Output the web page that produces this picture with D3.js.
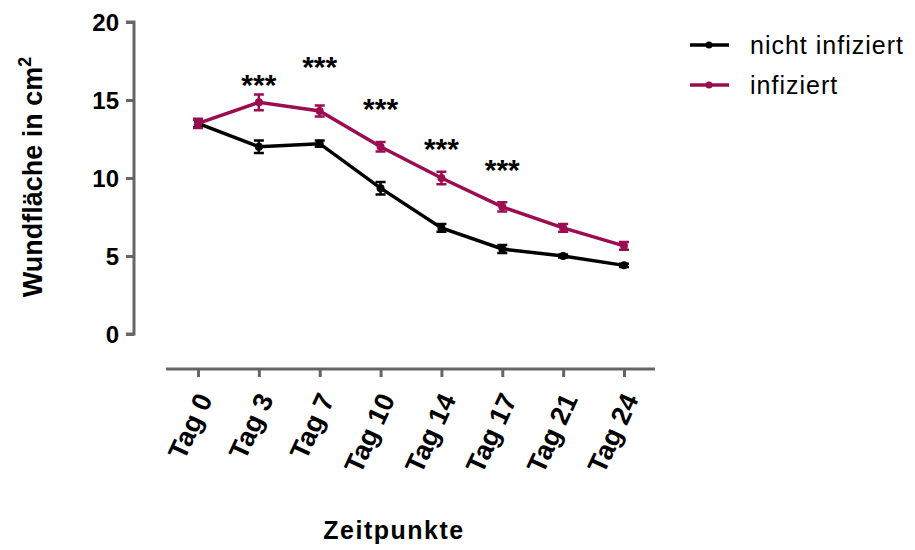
<!DOCTYPE html>
<html>
<head>
<meta charset="utf-8">
<script src="https://cdn.jsdelivr.net/npm/d3@7"></script>
<style>
  body { margin: 0; background: #fff; }
  svg { display: block; font-family: "Liberation Sans", Arial, sans-serif; }
</style>
</head>
<body>
<svg id="chart" width="915" height="550"></svg>
<script>
// data
var days = ["Tag 0", "Tag 3", "Tag 7", "Tag 10", "Tag 14", "Tag 17", "Tag 21", "Tag 24"];
var nichtMean = [13.5, 12.0, 12.2, 9.35, 6.8, 5.45, 5.0, 4.4];
var nichtErr  = [0.25, 0.4, 0.2, 0.4, 0.25, 0.25, 0.1, 0.1];
var infMean   = [13.5, 14.85, 14.3, 12.0, 10.0, 8.15, 6.8, 5.65];
var infErr    = [0.3, 0.5, 0.35, 0.3, 0.4, 0.3, 0.25, 0.25];
var starDays  = ["Tag 3", "Tag 7", "Tag 10", "Tag 14", "Tag 17"];
var starLevel = [16.4, 17.6, 14.9, 12.3, 11.0];
var yTicks = [0, 5, 10, 15, 20];

var series = [
  { name: "nicht infiziert", mean: nichtMean, err: nichtErr, color: "#000000" },
  { name: "infiziert", mean: infMean, err: infErr, color: "#9c0c50" }
];

var svg = d3.select("#chart");
var axisColor = "#666666";

var x = d3.scalePoint().domain(days).range([198, 624]);
var y = d3.scaleLinear().domain([0, 20]).range([334, 22]);

// y axis
var yAxis = svg.append("g").attr("transform", "translate(134,0)")
  .call(d3.axisLeft(y).tickValues(yTicks).tickSize(8).tickPadding(7));
yAxis.select(".domain").attr("stroke", axisColor).attr("stroke-width", 3)
  .attr("d", "M-8," + y(20) + "H0V" + y(0) + "H-8");
yAxis.selectAll(".tick line").attr("stroke", axisColor).attr("stroke-width", 3);
yAxis.selectAll(".tick text").attr("fill", "#000").style("font-size", "24px").style("font-weight", "bold")
  .attr("dy", "0.36em");

// x axis
var xAxis = svg.append("g").attr("transform", "translate(0,369)")
  .call(d3.axisBottom(x).tickSize(8));
xAxis.select(".domain").attr("stroke", axisColor).attr("stroke-width", 3)
  .attr("d", "M166,0H655");
xAxis.selectAll(".tick line").attr("stroke", axisColor).attr("stroke-width", 3);
xAxis.selectAll(".tick text").attr("fill", "#000").style("font-size", "27px").style("font-weight", "bold")
  .attr("text-anchor", "end").attr("x", 0).attr("y", 0).attr("dy", "0.72em")
  .attr("transform", "translate(-3,22) rotate(-65)");

// series lines, error bars, points
var line = d3.line().x(function (d, i) { return x(days[i]); }).y(function (d) { return y(d); });
series.forEach(function (s) {
  var g = svg.append("g");
  g.append("path").datum(s.mean).attr("d", line)
    .attr("fill", "none").attr("stroke", s.color).attr("stroke-width", 3.5);
  s.mean.forEach(function (m, i) {
    var cx = x(days[i]);
    var top = y(m + s.err[i]), bot = y(m - s.err[i]);
    g.append("path")
      .attr("d", "M" + (cx - 5) + "," + top + "H" + (cx + 5) + "M" + cx + "," + top + "V" + bot + "M" + (cx - 5) + "," + bot + "H" + (cx + 5))
      .attr("stroke", s.color).attr("stroke-width", 2.5).attr("fill", "none");
    g.append("circle").attr("cx", cx).attr("cy", y(m)).attr("r", 4).attr("fill", s.color);
  });
});

// significance stars
starDays.forEach(function (d, i) {
  svg.append("text").attr("x", x(d)).attr("y", y(starLevel[i]))
    .attr("text-anchor", "middle").attr("dy", "0.57em")
    .style("font-size", "30px").style("font-weight", "bold").text("***");
});

// axis titles
var yt = svg.append("text").attr("transform", "translate(42,177) rotate(-90)")
  .attr("text-anchor", "middle").style("font-size", "27px").style("font-weight", "bold");
yt.append("tspan").text("Wundfläche in cm");
yt.append("tspan").attr("dy", "-11").style("font-size", "18px").text("2");

svg.append("text").attr("x", 394).attr("y", 539).attr("text-anchor", "middle")
  .style("font-size", "25px").style("font-weight", "bold").style("letter-spacing", "1.5px").text("Zeitpunkte");

// legend
series.forEach(function (s, i) {
  var ly = 45 + i * 40;
  svg.append("line").attr("x1", 690).attr("x2", 729).attr("y1", ly).attr("y2", ly)
    .attr("stroke", s.color).attr("stroke-width", 3.5);
  svg.append("circle").attr("cx", 709).attr("cy", ly).attr("r", 3.5).attr("fill", s.color);
  svg.append("text").attr("x", 750).attr("y", ly).attr("dy", "0.35em")
    .style("font-size", "25px").style("letter-spacing", "1px").text(s.name);
});
</script>
</body>
</html>
